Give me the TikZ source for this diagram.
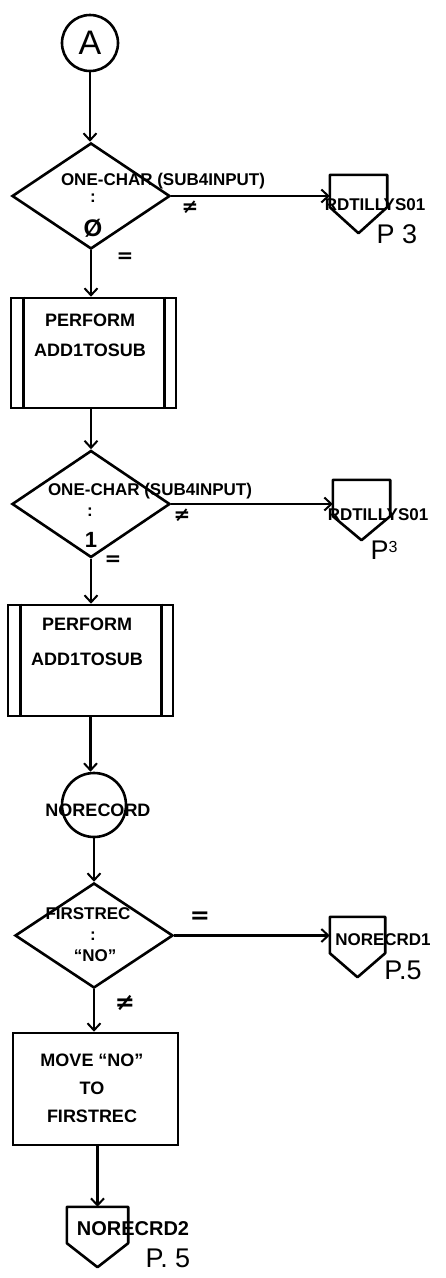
\documentclass[tikz,border=0pt]{standalone}
\usepackage{fontspec}
\setmainfont{Liberation Sans}
\newfontfamily\symfont{DejaVu Sans}
\usetikzlibrary{arrows.meta,shapes.geometric,calc}
\begin{document}
\begin{tikzpicture}[x=1pt,y=-1pt,
  line/.style={line width=2.6pt},
  flow/.style={line width=2.4pt,-{Straight Barb[length=7pt,width=13pt,line width=2pt]}},
  dec/.style={diamond,draw,line width=2.6pt,minimum width=158pt,minimum height=106pt,inner sep=0pt},
  proc/.style={rectangle,draw,line width=2.6pt,minimum width=165pt,minimum height=110pt,inner sep=0pt},
  conn/.style={circle,draw,line width=2.6pt,inner sep=0pt},
  opage/.style={rectangle,draw=none,inner sep=0pt},
  lbl/.style={inner sep=0pt,font=\bfseries\fontsize{17}{17}\selectfont},
  big/.style={inner sep=0pt,font=\bfseries\fontsize{18}{18}\selectfont},
  sym/.style={inner sep=0pt,font=\symfont\bfseries\fontsize{20}{20}\selectfont},
  page/.style={inner sep=0pt,font=\fontsize{27}{27}\selectfont},
]
\useasboundingbox (0,0) rectangle (446,1278);

% main column
\node[conn,minimum size=56pt,font=\fontsize{34}{34}\selectfont] (A) at (90,43) {A};
\node[dec] (d1) at (91,196) {};
\node[proc] (b1) at (93.5,353) {};
\node[dec,minimum height=107pt] (d2) at (91,504) {};
\node[proc,minimum height=111pt] (b2) at (90.5,660.5) {};
\node[conn,minimum size=64pt] (N) at (94,805) {};
\node[dec,minimum height=105pt] (d3) at (94,935.5) {};
\node[proc,minimum height=112pt] (b3) at (95.5,1089) {};
\node[opage,minimum width=61pt,minimum height=60pt] (c4) at (97.5,1237) {};

% off-page connectors on the right
\node[opage,minimum width=57pt,minimum height=58pt] (c1) at (358.5,204) {};
\node[opage,minimum width=57pt,minimum height=60pt] (c2) at (361.5,510) {};
\node[opage,minimum width=55pt,minimum height=60pt] (c3) at (357.5,947) {};

\foreach \c/\t in {c1/26,c2/24,c3/24,c4/24}{
  \draw[line,line join=round] (\c.north west) -- (\c.north east) -- ($(\c.south east)+(0,-\t)$)
     -- (\c.south) -- ($(\c.south west)+(0,-\t)$) -- cycle;
}

% inner lines of the predefined-process boxes
\foreach \b in {b1,b2}{
  \draw[line] ([xshift=14pt]\b.north west) -- ([xshift=14pt]\b.south west);
  \draw[line] ([xshift=-13pt]\b.north east) -- ([xshift=-13pt]\b.south east);
}

% texts
\node[lbl] (d1t) at (163,181) {ONE-CHAR (SUB4INPUT)};
\node[lbl] (d1c) at (93,198) {:};
\node[inner sep=0pt,font=\bfseries\fontsize{24}{24}\selectfont] (d1v) at (93,228) {Ø};
\node[sym] (d1ne) at (190,207) {≠};
\node[sym] (d1eq) at (125,258) {=};
\node[inner sep=0pt,font=\bfseries\fontsize{17}{17}\selectfont] (c1t) at (375,205) {RDTILLYS01};
\node[page] (c1p) at (397,234) {P 3};

\node[big,align=center,font=\bfseries\fontsize{18}{30}\selectfont] (b1t) at (90,335) {PERFORM\\ADD1TOSUB};

\node[lbl] (d2t) at (150,491) {ONE-CHAR (SUB4INPUT)};
\node[lbl] (d2c) at (90,512) {:};
\node[inner sep=0pt,font=\bfseries\fontsize{22}{22}\selectfont] (d2v) at (91,540) {1};
\node[sym] (d2ne) at (182,515) {≠};
\node[sym] (d2eq) at (113,561) {=};
\node[inner sep=0pt,font=\bfseries\fontsize{17}{17}\selectfont] (c2t) at (378,515) {RDTILLYS01};
\node[page] (c2p) at (384,550) {P\raisebox{7pt}{\fontsize{16}{16}\selectfont 3}};

\node[big,align=center,font=\bfseries\fontsize{18}{35}\selectfont] (b2t) at (87,642) {PERFORM\\ADD1TOSUB};

\node[big] (Nt) at (98,810) {NORECORD};

\node[lbl] (d3t) at (88,914) {FIRSTREC};
\node[lbl] (d3c) at (93,936) {:};
\node[lbl] (d3v) at (95,956) {“NO”};
\node[sym,font=\symfont\bfseries\fontsize{24}{24}\selectfont] (d3eq) at (200,918) {=};
\node[sym,font=\symfont\bfseries\fontsize{24}{24}\selectfont] (d3ne) at (125,1003) {≠};
\node[inner sep=0pt,font=\bfseries\fontsize{17}{17}\selectfont] (c3t) at (383,940) {NORECRD1};
\node[page] (c3p) at (403,970) {P.5};

\node[big,align=center,font=\bfseries\fontsize{18}{28}\selectfont] (b3t) at (92,1088) {MOVE “NO”\\TO\\FIRSTREC};

\node[inner sep=0pt,font=\bfseries\fontsize{20}{20}\selectfont] (c4t) at (133,1229) {NORECRD2};
\node[page] (c4p) at (168,1258) {P. 5};

% connectors
\draw[flow] (A.south) -- (A.south |- d1.north);
\draw[flow] (d1.east) -- (d1.east -| c1.west);
\draw[flow] (d1.south) -- (d1.south |- b1.north);
\draw[flow] (b1.south -| d2.north) -- (d2.north);
\draw[flow] (d2.east) -- (d2.east -| c2.west);
\draw[flow] (d2.south) -- (d2.south |- b2.north);
\draw[flow] (b2.south) -- (b2.south |- N.north);
\draw[flow] (N.south) -- (N.south |- d3.north);
\draw[flow] (d3.east) -- (d3.east -| c3.west);
\draw[flow] (d3.south) -- (d3.south |- b3.north);
\draw[flow] (b3.south -| c4.north) -- (c4.north);
\end{tikzpicture}
\end{document}
